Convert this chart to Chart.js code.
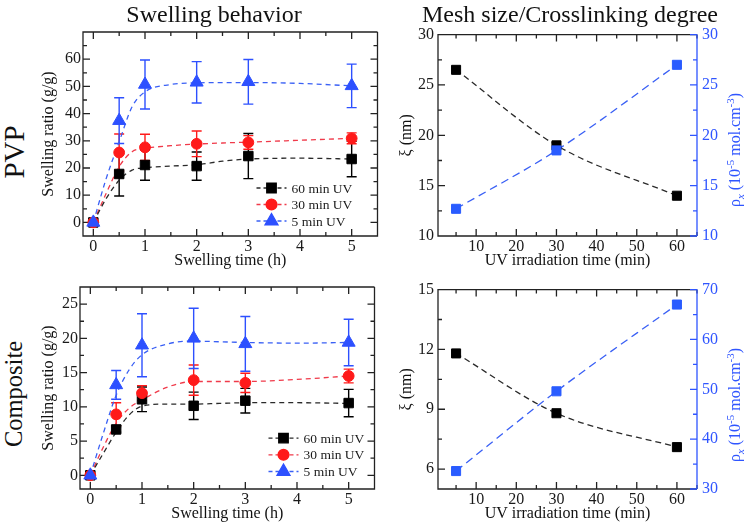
<!DOCTYPE html>
<html lang="en">
<head>
<meta charset="UTF-8">
<title>Swelling behavior / Mesh size</title>
<script src="https://cdn.jsdelivr.net/npm/chart.js@4.4.1/dist/chart.umd.min.js"></script>
<style>
  body { margin: 0; background: #fff; }
  #fig { position: relative; width: 746px; height: 527px; overflow: hidden;
         font-family: "Liberation Serif", "Times New Roman", serif; }
  canvas { position: absolute; }
  .lbl { position: absolute; white-space: nowrap; transform: translate(-50%, -50%); color: #111; line-height: 1; }
  .rot { transform: translate(-50%, -50%) rotate(-90deg); }
  .lbl sup, .lbl sub { font-size: 0.68em; line-height: 0; }
</style>
</head>
<body>
<div id="fig">
  <canvas id="pvpSwell" width="348" height="252" style="left:38px;top:20px"></canvas>
  <canvas id="pvpMeshChart" width="350" height="252" style="left:396px;top:20px"></canvas>
  <canvas id="compSwell" width="345" height="250" style="left:38px;top:275px"></canvas>
  <canvas id="compMeshChart" width="350" height="250" style="left:396px;top:275px"></canvas>

  <div class="lbl" style="left:214px;top:14px;font-size:24px">Swelling behavior</div>
  <div class="lbl" style="left:570px;top:14px;font-size:24px">Mesh size/Crosslinking degree</div>
  <div class="lbl rot" style="left:14px;top:152px;font-size:29px">PVP</div>
  <div class="lbl rot" style="left:14px;top:394px;font-size:24.5px">Composite</div>
  <div class="lbl rot" style="left:735px;top:150px;font-size:16px;color:#2f55ff">ρ<sub><i>x</i></sub> (10<sup>-5</sup> mol.cm<sup>-3</sup>)</div>
  <div class="lbl rot" style="left:735px;top:405px;font-size:16px;color:#2f55ff">ρ<sub><i>x</i></sub> (10<sup>-5</sup> mol.cm<sup>-3</sup>)</div>
</div>

<script>
  // ---- data ----
  const hours = [0, 0.5, 1, 2, 3, 5];
  const fitHours = [0, 0.25, 0.5, 0.75, 1, 1.5, 2, 2.5, 3, 4, 5];

  // PVP swelling ratio (g/g)
  const pvp60 = [0, 17.8, 21.1, 20.7, 24.4, 23.3];
  const pvp60Err = [0, 8.1, 5.6, 5.2, 8.3, 6.5];
  const pvp30 = [0, 25.7, 27.6, 28.9, 29.4, 30.9];
  const pvp30Err = [0, 6.8, 4.8, 4.7, 2.5, 2.0];
  const pvp5 = [0, 37.4, 50.7, 51.5, 51.7, 50.2];
  const pvp5Err = [0, 8.4, 9.0, 7.6, 8.2, 8.0];
  const pvpFit60 = [0, 8.8, 15.5, 19.2, 20.1, 20.7, 21.2, 22.5, 23.3, 23.6, 23.3];
  const pvpFit30 = [0, 10.7, 20.5, 26.0, 27.2, 28.2, 28.8, 29.2, 29.5, 30.2, 30.9];
  const pvpFit5 = [0, 16.2, 29.6, 42.5, 48.0, 50.7, 51.3, 51.4, 51.4, 51.1, 50.2];

  // Composite swelling ratio (g/g)
  const comp60 = [0, 6.7, 11.1, 10.15, 10.9, 10.55];
  const comp60Err = [0, 0.4, 1.8, 2.0, 1.8, 2.0];
  const comp30 = [0, 8.9, 12.0, 13.9, 13.5, 14.5];
  const comp30Err = [0, 1.7, 1.1, 2.2, 1.4, 1.0];
  const comp5 = [0, 13.2, 19.0, 20.0, 19.2, 19.4];
  const comp5Err = [0, 2.1, 4.6, 4.4, 4.0, 3.4];
  const compFit60 = [0, 3.2, 6.3, 8.8, 10.1, 10.4, 10.4, 10.5, 10.6, 10.6, 10.5];
  const compFit30 = [0, 4.1, 7.6, 9.8, 11.0, 12.9, 13.7, 13.7, 13.7, 14.0, 14.5];
  const compFit5 = [0, 6.1, 11.7, 15.4, 17.6, 19.2, 19.6, 19.5, 19.4, 19.3, 19.4];

  // mesh size (nm) and crosslink density (1e-5 mol/cm3) vs UV time (min)
  const uvTime = [5, 30, 60];
  const pvpMesh = [26.5, 19.0, 14.0];
  const pvpDensity = [12.7, 18.5, 27.0];
  const compMesh = [11.8, 8.8, 7.1];
  const compDensity = [33.6, 49.6, 67.0];

  // tick labels
  const hourTicks = [0, 1, 2, 3, 4, 5];
  const pvpRatioTicks = [0, 10, 20, 30, 40, 50, 60];
  const compRatioTicks = [0, 5, 10, 15, 20, 25];
  const uvTicks = [10, 20, 30, 40, 50, 60];
  const pvpMeshTicks = [10, 15, 20, 25, 30];
  const pvpDensityTicks = [10, 15, 20, 25, 30];
  const compMeshTicks = [6, 9, 12, 15];
  const compDensityTicks = [30, 40, 50, 60, 70];

  const serif = '"Liberation Serif", "Times New Roman", serif';
  Chart.defaults.font.family = serif;
  Chart.defaults.color = '#1a1a1a';
  Chart.defaults.animation = false;
  Chart.defaults.plugins.legend.display = false;
  Chart.defaults.plugins.tooltip.enabled = false;

  const BLACK = '#000000', RED = '#ff1a1a', BLUE = '#2d50ff';
  const AXBLUE = '#2f55ff';

  // frame with inward ticks (xmgrace style) + error bars
  function minorsOf(majors, min, max) {
    const step = majors[1] - majors[0];
    const out = [];
    majors.forEach(m => {
      [m - step / 2, m + step / 2].forEach(v => {
        if (v >= min - 1e-9 && v <= max + 1e-9 && !out.includes(v)) out.push(v);
      });
    });
    return out;
  }

  const frameTicks = {
    id: 'frameTicks',
    beforeDatasetsDraw(chart, args, opts) {
      const { ctx, chartArea: a, scales } = chart;
      ctx.save();
      ctx.lineWidth = 1.3;
      const MAJ = 7, MIN = 4;
      const ticksOf = s => {
        const maj = s.ticks.map(t => t.value);
        return [maj.map(v => [v, MAJ]), minorsOf(maj, s.min, s.max).map(v => [v, MIN])].flat();
      };
      // x ticks bottom + top
      ctx.strokeStyle = '#222';
      ctx.beginPath();
      ticksOf(scales.x).forEach(([v, len]) => {
        const px = scales.x.getPixelForValue(v);
        ctx.moveTo(px, a.bottom); ctx.lineTo(px, a.bottom - len);
        ctx.moveTo(px, a.top); ctx.lineTo(px, a.top + len);
      });
      // left y ticks
      ticksOf(scales.y).forEach(([v, len]) => {
        const py = scales.y.getPixelForValue(v);
        ctx.moveTo(a.left, py); ctx.lineTo(a.left + len, py);
        if (!opts.rightScale) { ctx.moveTo(a.right, py); ctx.lineTo(a.right - len, py); }
      });
      ctx.moveTo(a.right, a.top); ctx.lineTo(a.left, a.top);
      ctx.lineTo(a.left, a.bottom); ctx.lineTo(a.right, a.bottom);
      if (!opts.rightScale) ctx.lineTo(a.right, a.top);
      ctx.stroke();
      if (opts.rightScale) {
        const rs = scales[opts.rightScale];
        ctx.strokeStyle = AXBLUE;
        ctx.beginPath();
        ticksOf(rs).forEach(([v, len]) => {
          const py = rs.getPixelForValue(v);
          ctx.moveTo(a.right, py); ctx.lineTo(a.right - len, py);
        });
        ctx.moveTo(a.right, a.top); ctx.lineTo(a.right, a.bottom);
        ctx.stroke();
      }
      // error bars
      ctx.lineWidth = 1.4;
      chart.data.datasets.forEach((ds, di) => {
        if (!ds.yErr) return;
        const meta = chart.getDatasetMeta(di);
        const ys = meta.yScale;
        ctx.strokeStyle = ds.borderColor;
        ctx.beginPath();
        meta.data.forEach((pt, i) => {
          const e = ds.yErr[i];
          if (!e) return;
          const v = ds.data[i].y;
          const t = ys.getPixelForValue(v + e), b = ys.getPixelForValue(v - e);
          ctx.moveTo(pt.x, t); ctx.lineTo(pt.x, b);
          ctx.moveTo(pt.x - 5, t); ctx.lineTo(pt.x + 5, t);
          ctx.moveTo(pt.x - 5, b); ctx.lineTo(pt.x + 5, b);
        });
        ctx.stroke();
      });
      ctx.restore();
    }
  };

  // legend drawn inside the plot: dash - marker - dash, then label
  const innerLegend = {
    id: 'innerLegend',
    afterDatasetsDraw(chart, args, opts) {
      if (!opts.right) return;
      const { ctx, chartArea: a } = chart;
      const items = chart.data.datasets.filter(d => d.label);
      ctx.save();
      items.forEach((ds, i) => {
        const y = a.bottom - opts.bottom - (items.length - 1 - i) * opts.gap;
        const x0 = a.right - opts.right;
        ctx.strokeStyle = ds.fitColor;
        ctx.lineWidth = 1.3;
        ctx.setLineDash([4, 3]);
        ctx.beginPath();
        ctx.moveTo(x0, y); ctx.lineTo(x0 + 30, y);
        ctx.stroke();
        ctx.setLineDash([]);
        ctx.fillStyle = ds.backgroundColor;
        ctx.strokeStyle = ds.borderColor;
        Chart.helpers.drawPoint(ctx, { pointStyle: ds.pointStyle, radius: ds.pointRadius, rotation: 0, borderWidth: 1 }, x0 + 15, y);
        ctx.fillStyle = '#1a1a1a';
        ctx.font = '13.5px ' + serif;
        ctx.textBaseline = 'middle';
        ctx.fillText(ds.label, x0 + 35, y + 1);
      });
      ctx.restore();
    }
  };

  const fixedTicks = values => scale => { scale.ticks = values.map(v => ({ value: v })); };
  const fixWidth = w => s => { s.width = w; };
  const fixHeight = h => s => { s.height = h; };

  function axis(min, max, ticks, size, pad, extra) {
    return Object.assign({
      type: 'linear', min: min, max: max,
      afterBuildTicks: fixedTicks(ticks),
      grid: { display: false, drawTicks: false },
      border: { display: false },
      ticks: { font: { size: 16 }, padding: pad, color: '#1a1a1a' }
    }, extra, size);
  }

  function markerSet(label, ys, errs, color, fitColor, style, radius, order) {
    return {
      label: label, fitColor: fitColor,
      data: hours.map((h, i) => ({ x: h, y: ys[i] })), yErr: errs,
      showLine: false, pointStyle: style, pointRadius: radius, pointHoverRadius: radius,
      backgroundColor: color, borderColor: color, pointBorderWidth: 1, order: order
    };
  }
  function fitSet(xs, ys, color, dash, axisId) {
    return {
      data: xs.map((h, i) => ({ x: h, y: ys[i] })), yAxisID: axisId || 'y',
      showLine: true, pointRadius: 0, borderColor: color, borderWidth: 1.3,
      borderDash: dash, cubicInterpolationMode: 'monotone', fill: false, order: 10
    };
  }

  const FIT_BLACK = '#2a2a2a', FIT_RED = '#f03a4a', FIT_BLUE = '#3a60f5';

  function swellChart(id, top, s60, e60, s30, e30, s5, e5, f60, f30, f5, yMin, yMax, yTicks, yWidth, legend) {
    return new Chart(document.getElementById(id), {
      type: 'scatter',
      data: {
        datasets: [
          fitSet(fitHours, f60, FIT_BLACK, [5, 4]),
          fitSet(fitHours, f30, FIT_RED, [5, 4]),
          fitSet(fitHours, f5, FIT_BLUE, [5, 4]),
          markerSet('60 min UV', s60, e60, BLACK, FIT_BLACK, 'rect', 6.7, 3),
          markerSet('30 min UV', s30, e30, RED, FIT_RED, 'circle', 5.4, 2),
          markerSet('5 min UV', s5, e5, BLUE, FIT_BLUE, 'triangle', 7.5, 1)
        ]
      },
      options: {
        responsive: false,
        devicePixelRatio: 1,
        layout: { padding: { top: top, right: 4, left: 0, bottom: 0 } },
        scales: {
          x: axis(-0.2, 5.5, hourTicks, { afterFit: fixHeight(36) }, 1, {
            title: { display: true, text: 'Swelling time (h)', font: { size: 16, lineHeight: 1 }, padding: { top: 0, bottom: 3 }, color: '#111' }
          }),
          y: axis(yMin, yMax, yTicks, { afterFit: fixWidth(yWidth) }, 2, {
            title: { display: true, text: 'Swelling ratio (g/g)', font: { size: 16, lineHeight: 1 }, padding: { top: 2.5, bottom: 0 }, color: '#111' }
          })
        },
        plugins: { frameTicks: {}, innerLegend: legend }
      },
      plugins: [frameTicks, innerLegend]
    });
  }

  function meshChart(id, top, mesh, density, lMin, lMax, lTicks, rMin, rMax, rTicks) {
    return new Chart(document.getElementById(id), {
      type: 'scatter',
      data: {
        datasets: [
          fitSet(uvTime, mesh, FIT_BLACK, [6, 4], 'y'),
          fitSet(uvTime, density, FIT_BLUE, [8, 5], 'y2'),
          {
            data: uvTime.map((t, i) => ({ x: t, y: mesh[i] })), yAxisID: 'y',
            pointStyle: 'rect', pointRadius: 6.4, backgroundColor: BLACK, borderColor: BLACK, order: 2
          },
          {
            data: uvTime.map((t, i) => ({ x: t, y: density[i] })), yAxisID: 'y2',
            pointStyle: 'rect', pointRadius: 6.4, backgroundColor: '#2a5cff', borderColor: '#2a5cff', order: 1
          }
        ]
      },
      options: {
        responsive: false,
        devicePixelRatio: 1,
        layout: { padding: { top: top, right: 0, left: 0, bottom: 0 } },
        scales: {
          x: axis(0.5, 65, uvTicks, { afterFit: fixHeight(36) }, 1, {
            title: { display: true, text: 'UV irradiation time (min)', font: { size: 16, lineHeight: 1 }, padding: { top: 0, bottom: 3 }, color: '#111' }
          }),
          y: axis(lMin, lMax, lTicks, { afterFit: fixWidth(42) }, 4, {
            title: { display: true, text: 'ξ (nm)', font: { size: 16, lineHeight: 1 }, padding: { top: 3, bottom: 0 }, color: '#111' }
          }),
          y2: axis(rMin, rMax, rTicks, { afterFit: fixWidth(49) }, 5, {
            position: 'right',
            ticks: { font: { size: 16 }, padding: 5, color: AXBLUE }
          })
        },
        plugins: { frameTicks: { rightScale: 'y2' } }
      },
      plugins: [frameTicks]
    });
  }

  swellChart('pvpSwell', 12, pvp60, pvp60Err, pvp30, pvp30Err, pvp5, pvp5Err,
    pvpFit60, pvpFit30, pvpFit5, -5, 70, pvpRatioTicks, 45, { right: 121, bottom: 15, gap: 16.5 });
  swellChart('compSwell', 12, comp60, comp60Err, comp30, comp30Err, comp5, comp5Err,
    compFit60, compFit30, compFit5, -2, 27.5, compRatioTicks, 42, { right: 106, bottom: 17.5, gap: 16.7 });
  meshChart('pvpMeshChart', 13, pvpMesh, pvpDensity, 10, 30, pvpMeshTicks, 10, 30, pvpDensityTicks);
  meshChart('compMeshChart', 12, compMesh, compDensity, 5, 15, compMeshTicks, 30, 70, compDensityTicks);
</script>
</body>
</html>
